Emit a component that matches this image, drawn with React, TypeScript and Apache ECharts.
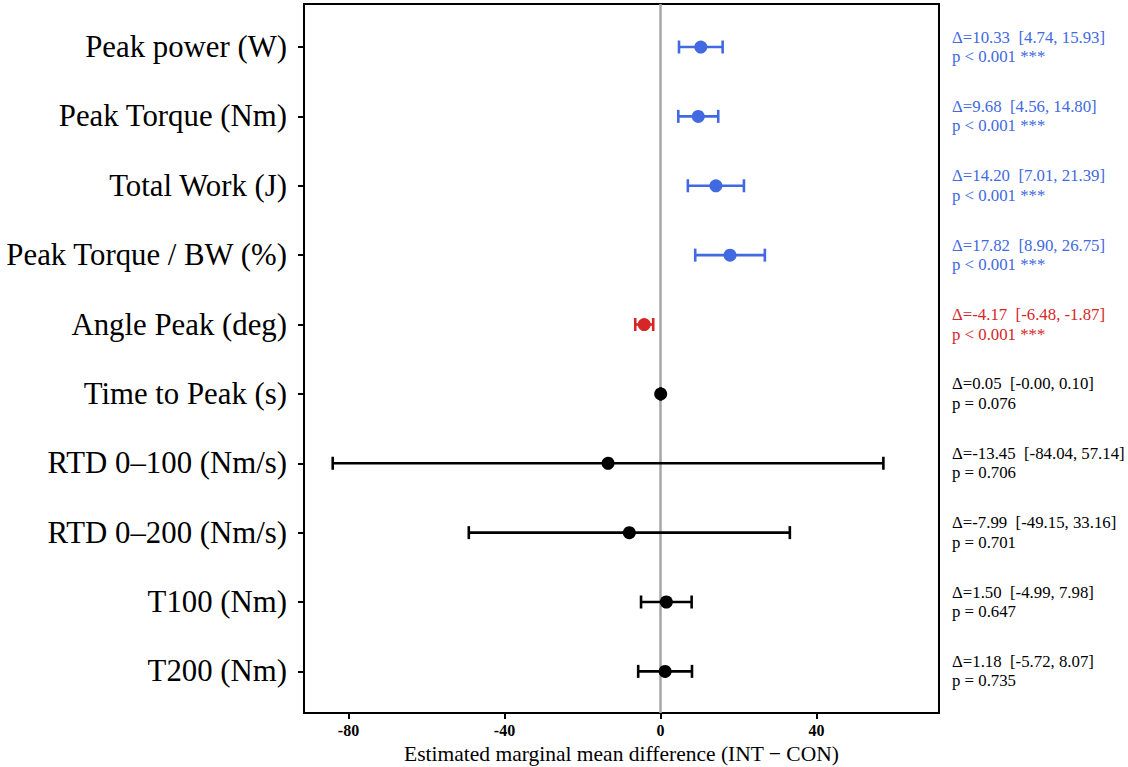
import React, { useEffect, useRef } from "react";
import * as echarts from "echarts";

const categories = [
  "Peak power (W)",
  "Peak Torque (Nm)",
  "Total Work (J)",
  "Peak Torque / BW (%)",
  "Angle Peak (deg)",
  "Time to Peak (s)",
  "RTD 0–100 (Nm/s)",
  "RTD 0–200 (Nm/s)",
  "T100 (Nm)",
  "T200 (Nm)",
];
const estimates = [10.33, 9.68, 14.2, 17.82, -4.17, 0.05, -13.45, -7.99, 1.5, 1.18];
const ciLow = [4.74, 4.56, 7.01, 8.9, -6.48, -0.004, -84.04, -49.15, -4.99, -5.72];
const ciHigh = [15.93, 14.8, 21.39, 26.75, -1.87, 0.1, 57.14, 33.16, 7.98, 8.07];
const pLabels = [
  "p < 0.001 ***",
  "p < 0.001 ***",
  "p < 0.001 ***",
  "p < 0.001 ***",
  "p < 0.001 ***",
  "p = 0.076",
  "p = 0.706",
  "p = 0.701",
  "p = 0.647",
  "p = 0.735",
];
const significant = [true, true, true, true, true, false, false, false, false, false];
const xTicks = [-80, -40, 0, 40];
const xAxisName = "Estimated marginal mean difference (INT − CON)";

const BLUE = "#4169E1";
const RED = "#D62728";
const BLACK = "#000000";
const FONT = "'Liberation Serif', 'Times New Roman', serif";

function rowColor(i: number) {
  if (!significant[i]) return BLACK;
  return estimates[i] >= 0 ? BLUE : RED;
}

export default function App() {
  const ref = useRef<HTMLDivElement>(null);
  useEffect(() => {
    if (!ref.current) return;
    const chart = echarts.init(ref.current, undefined, { renderer: "svg" });
    const data = categories.map((_, i) => [i, ciLow[i], ciHigh[i], estimates[i]]);
    const option: any = {
      animation: false,
      backgroundColor: "#ffffff",
      grid: {
        left: 304,
        top: 4,
        width: 635,
        height: 709,
        show: true,
        borderColor: "#000",
        borderWidth: 2,
        backgroundColor: "transparent",
        containLabel: false,
        outerBoundsMode: "none",
      },
      xAxis: {
        type: "value",
        min: -91.4,
        max: 71.4,
        splitLine: { show: false },
        axisLine: { show: true, onZero: false, lineStyle: { color: "#000", width: 2 } },
        axisTick: {
          show: true,
          length: 6,
          customValues: xTicks,
          lineStyle: { color: "#000", width: 2 },
        },
        axisLabel: {
          customValues: xTicks,
          color: "#000",
          fontFamily: FONT,
          fontWeight: "bold",
          fontSize: 16,
          margin: 9,
        },
        name: xAxisName,
        nameLocation: "middle",
        nameGap: 28,
        nameTextStyle: { color: "#000", fontFamily: FONT, fontSize: 21.5 },
      },
      yAxis: {
        type: "value",
        inverse: true,
        min: -0.62,
        max: 9.6,
        splitLine: { show: false },
        axisLine: { show: true, onZero: false, lineStyle: { color: "#000", width: 2 } },
        axisTick: {
          show: true,
          length: 6,
          customValues: categories.map((_, i) => i),
          lineStyle: { color: "#000", width: 2 },
        },
        axisLabel: {
          customValues: categories.map((_, i) => i),
          formatter: (v: number) => categories[Math.round(v)] ?? "",
          color: "#000",
          fontFamily: FONT,
          fontSize: 30.8,
          margin: 17,
        },
      },
      series: [
        {
          type: "custom",
          clip: false,
          data,
          encode: { x: [1, 2, 3], y: 0 },
          renderItem: (params: any, api: any) => {
            const i = api.value(0);
            const lo = api.coord([api.value(1), i]);
            const hi = api.coord([api.value(2), i]);
            const est = api.coord([api.value(3), i]);
            const color = rowColor(i);
            const cs = params.coordSys;
            const tx = cs.x + cs.width + 13;
            const cap = 6.5;
            const lw = 2.6;
            const ls = { stroke: color, lineWidth: lw };
            const txt = `Δ=${estimates[i].toFixed(2)}\u00a0 [${ciLow[i].toFixed(2)}, ${ciHigh[i].toFixed(2)}]`;
            return {
              type: "group",
              children: [
                { type: "line", shape: { x1: lo[0], y1: lo[1], x2: hi[0], y2: hi[1] }, style: ls },
                { type: "line", shape: { x1: lo[0], y1: lo[1] - cap, x2: lo[0], y2: lo[1] + cap }, style: ls },
                { type: "line", shape: { x1: hi[0], y1: hi[1] - cap, x2: hi[0], y2: hi[1] + cap }, style: ls },
                { type: "circle", shape: { cx: est[0], cy: est[1], r: 6.5 }, style: { fill: color } },
                {
                  type: "text",
                  x: tx,
                  y: est[1] - 10,
                  style: {
                    text: txt,
                    fill: color,
                    font: `16.8px ${FONT}`,
                    textAlign: "left",
                    textVerticalAlign: "middle",
                  },
                },
                {
                  type: "text",
                  x: tx,
                  y: est[1] + 9.5,
                  style: {
                    text: pLabels[i],
                    fill: color,
                    font: `16.8px ${FONT}`,
                    textAlign: "left",
                    textVerticalAlign: "middle",
                  },
                },
              ],
            };
          },
          markLine: {
            silent: true,
            symbol: "none",
            label: { show: false },
            lineStyle: { color: "#a6a6a6", width: 2.5, type: "solid" },
            data: [{ xAxis: 0 }],
            z: 1,
          },
          z: 3,
        },
      ],
    };
    chart.setOption(option);
    return () => chart.dispose();
  }, []);
  return (
    <div
      ref={ref}
      style={{ position: "absolute", left: 0, top: 0, width: 1128, height: 767, background: "#fff" }}
    />
  );
}
